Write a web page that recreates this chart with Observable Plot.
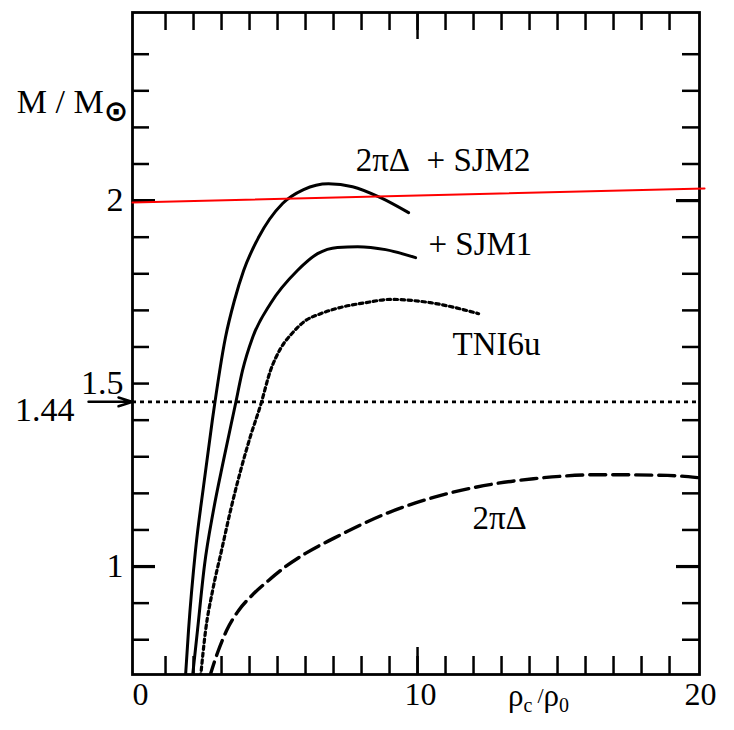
<!DOCTYPE html>
<html>
<head>
<meta charset="utf-8">
<script src="https://cdn.jsdelivr.net/npm/d3@7"></script>
<script src="https://cdn.jsdelivr.net/npm/@observablehq/plot@0.6"></script>
<style>
  body { margin: 0; background: #fff; }
  #chart svg { display: block; }
  #chart svg text { font-family: "Liberation Serif", "Times New Roman", "DejaVu Serif", serif !important; }
  #chart svg tspan.sym { font-family: "DejaVu Sans", sans-serif !important; }
</style>
</head>
<body>
<div id="chart"></div>
<script>
// ---------- data ----------
// x = rho_c / rho_0 ; m = M / M_sun
const sjm2X = [1.71, 1.82, 2.07, 2.36, 2.67, 3.14, 3.46, 3.79, 4.32, 5.18, 5.93, 6.82, 7.68, 8.68, 9.68];
const sjm2M = [0.697, 0.825, 1.044, 1.221, 1.399, 1.626, 1.727, 1.809, 1.899, 1.992, 2.030, 2.046, 2.038, 2.008, 1.967];

const sjm1X = [1.96, 2.14, 2.39, 2.71, 3.07, 3.50, 3.75, 4.11, 4.75, 5.71, 6.43, 7.14, 7.86, 8.86, 9.93];
const sjm1M = [0.697, 0.825, 1.003, 1.153, 1.290, 1.445, 1.536, 1.626, 1.719, 1.809, 1.855, 1.872, 1.874, 1.866, 1.844];

const tniX = [2.25, 2.43, 2.68, 3.00, 3.32, 3.68, 4.04, 4.39, 4.75, 5.11, 5.54, 6.00, 6.54, 7.25, 8.14, 9.04, 10.46, 12.18];
const tniM = [0.697, 0.825, 0.934, 1.044, 1.153, 1.262, 1.358, 1.440, 1.536, 1.596, 1.639, 1.672, 1.691, 1.708, 1.721, 1.730, 1.721, 1.691];

const deltaX = [2.57, 2.86, 3.18, 3.61, 4.11, 4.68, 5.29, 6.00, 7.00, 8.79, 10.57, 12.36, 14.14, 16.54, 18.93, 20.0];
const deltaM = [0.697, 0.765, 0.825, 0.880, 0.923, 0.962, 1.000, 1.036, 1.077, 1.142, 1.189, 1.221, 1.240, 1.251, 1.249, 1.243];

// reference levels
const chandraLevel = 1.45;          // dotted line, marked "1.44"
const redLineX = [-0.18, 20.25];    // hand-drawn red 2 M_sun line
const redLineM = [1.9945, 2.033];

// annotation / labels
const curveLabels = ["2πΔ\u00a0\u00a0+ SJM2", "+ SJM1", "TNI6u", "2πΔ"];
const curveLabelX = [7.79, 10.39, 11.25, 11.96];
const curveLabelM = [2.109, 1.880, 1.607, 1.131];
const chandraText = "1.44";
const arrowFromX = -1.75;

// ticks
const xTickLabels = [0, 10, 20];
const yTickLabels = [1, 1.5, 2];
const xMinorTicks = [1, 2, 3, 4, 5, 6, 7, 8, 9, 10, 11, 12, 13, 14, 15, 16, 17, 18, 19];
const xMajorTicks = [10];
const yMinorTicks = [0.8, 0.9, 1.0, 1.1, 1.2, 1.3, 1.4, 1.5, 1.6, 1.7, 1.8, 1.9, 2.0, 2.1, 2.2, 2.3, 2.4];
const yMajorTicks = [1, 2];

const xDomain = [-0.18, 20.07];
const yDomain = [0.705, 2.514];

// ---------- layout ----------
const W = 734, H = 730, mL = 132, mR = 35, mT = 12, mB = 56;
const innerW = W - mL - mR, innerH = H - mT - mB;
const serif = "Liberation Serif, Times New Roman, DejaVu Serif, serif";

const rows = (xs, ms) => xs.map((x, i) => ({x, m: ms[i]}));
const labelRows = curveLabels.map((t, i) => ({t, x: curveLabelX[i], m: curveLabelM[i]}));

const plot = Plot.plot({
  width: W, height: H,
  marginLeft: mL, marginRight: mR, marginTop: mT, marginBottom: mB,
  x: {domain: xDomain, label: null},
  y: {domain: yDomain, label: null},
  style: {fontFamily: serif, fontSize: "32px", background: "white", overflow: "visible", color: "black"},
  marks: [
    // inward ticks on all four sides
    Plot.ruleY(yMinorTicks, {insetRight: innerW - 17, strokeWidth: 2.5}),
    Plot.ruleY(yMinorTicks, {insetLeft: innerW - 17, strokeWidth: 2.5}),
    Plot.ruleY(yMajorTicks, {insetRight: innerW - 23, strokeWidth: 3.2}),
    Plot.ruleY(yMajorTicks, {insetLeft: innerW - 23, strokeWidth: 3.2}),
    Plot.ruleX(xMinorTicks, {insetTop: innerH - 18, strokeWidth: 2.5}),
    Plot.ruleX(xMinorTicks, {insetBottom: innerH - 18, strokeWidth: 2.5}),
    Plot.ruleX(xMajorTicks, {insetTop: innerH - 27, strokeWidth: 2.5}),
    Plot.ruleX(xMajorTicks, {insetBottom: innerH - 27, strokeWidth: 2.5}),
    Plot.frame({stroke: "black", strokeWidth: 2.8}),

    // tick labels
    Plot.axisX({ticks: xTickLabels, tickSize: 0, tickPadding: 8, dx: 3, fontSize: 32, fontFamily: serif, label: null, tickFormat: d => String(d)}),
    Plot.axisY({ticks: yTickLabels, tickSize: 0, tickPadding: 9, fontSize: 34, fontFamily: serif, label: null, tickFormat: d => String(d)}),

    // reference lines
    Plot.ruleY([chandraLevel], {stroke: "black", strokeWidth: 2.6, strokeDasharray: "4 4"}),
    Plot.arrow([{x1: arrowFromX, x2: xDomain[0], y: chandraLevel}], {
      x1: "x1", x2: "x2", y1: "y", y2: "y", stroke: "black", strokeWidth: 2.5,
      headLength: 14, headAngle: 35
    }),
    Plot.text([{x: arrowFromX, y: 1.44, t: chandraText}], {
      x: "x", y: "y", text: "t", textAnchor: "end", dx: -14, dy: 5, fontSize: 34, fontFamily: serif
    }),

    // curves
    Plot.line(rows(deltaX, deltaM), {x: "x", y: "m", stroke: "black", strokeWidth: 3.4, strokeDasharray: "16 7", curve: "monotone-x", clip: true}),
    Plot.line(rows(tniX, tniM), {x: "x", y: "m", stroke: "black", strokeWidth: 3.2, strokeDasharray: "3.5 3.5", curve: "monotone-x", clip: true}),
    Plot.line(rows(sjm1X, sjm1M), {x: "x", y: "m", stroke: "black", strokeWidth: 3, curve: "monotone-x", clip: true}),
    Plot.line(rows(sjm2X, sjm2M), {x: "x", y: "m", stroke: "black", strokeWidth: 3, curve: "monotone-x", clip: true}),

    // red 2 Msun line
    Plot.line(rows(redLineX, redLineM), {x: "x", y: "m", stroke: "#ff0000", strokeWidth: 2}),

    // curve labels
    Plot.text(labelRows, {x: "x", y: "m", text: "t", textAnchor: "start", fontSize: 33, fontFamily: serif})
  ]
});

document.getElementById("chart").appendChild(plot);

// axis titles with sub/superscript pieces
const svg = d3.select(plot);
const sx = plot.scale("x"), sy = plot.scale("y");

const yTitle = svg.append("text")
  .attr("x", mL - 4)
  .attr("y", sy.apply(2.238))
  .attr("text-anchor", "end")
  .attr("font-family", serif)
  .attr("font-size", 34)
  .attr("fill", "black");
yTitle.append("tspan").text("M / M");
yTitle.append("tspan").attr("class", "sym").attr("font-size", 29).attr("font-weight", "bold").attr("dy", 8).text("⊙");

const xTitle = svg.append("text")
  .attr("x", sx.apply(13.25))
  .attr("y", H - mB + 32)
  .attr("text-anchor", "start")
  .attr("font-family", serif)
  .attr("font-size", 31)
  .attr("fill", "black");
xTitle.append("tspan").text("ρ");
xTitle.append("tspan").attr("font-size", 20).attr("dy", 6).text("c");
xTitle.append("tspan").attr("font-size", 22).attr("dy", -9).attr("dx", 5).text("/");
xTitle.append("tspan").attr("font-size", 31).attr("dy", 3).text("ρ");
xTitle.append("tspan").attr("font-size", 20).attr("dy", 6).text("0");
</script>
</body>
</html>
